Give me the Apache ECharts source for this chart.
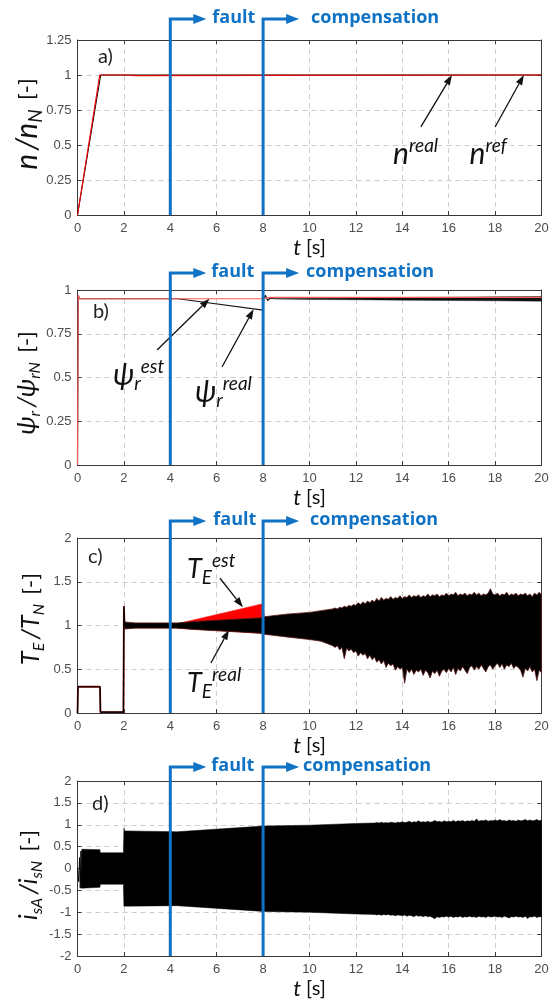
<!DOCTYPE html>
<html><head><meta charset="utf-8">
<script src="https://cdn.jsdelivr.net/npm/echarts@6/dist/echarts.min.js"></script>
<style>html,body{margin:0;padding:0;background:#fff}#c{width:552px;height:1003px}</style>
</head><body><div id="c"></div>
<script>
// ---------------- data ----------------
const faultTime = 4, compTime = 8;
const xMin = 0, xMax = 20, xStep = 2;
const yRanges = [[0, 1.25, 0.25], [0, 1, 0.25], [0, 2, 0.5], [-2, 2, 0.5]];
const panelLetters = ['a)', 'b)', 'c)', 'd)'];

// a) speed
const tRefA = [0, 1, 20];
const nRef = [0, 1, 1];
const tRealA = [0, 0.96, 2.0, 2.05, 2.5, 2.55, 20];
const nReal = [0, 1, 1, 0.996, 0.996, 1, 1];

// b) rotor flux
const tEstB = [0, 0.03, 0.08, 8.0, 8.3, 20];
const psiEst = [0, 0.97, 0.95, 0.95, 0.958, 0.958];
const tRealB = [0, 0.03, 0.08, 4.33, 8.0, 8.03, 8.1, 8.2, 8.3, 8.5];
const psiReal = [0, 0.97, 0.95, 0.95, 0.885, 0.95, 0.97, 0.94, 0.953, 0.95];
const tBandB = [8.5, 10, 12, 14, 16, 18, 20];
const psiBandUp = [0.952, 0.953, 0.955, 0.957, 0.959, 0.961, 0.963];
const psiBandLo = [0.948, 0.946, 0.944, 0.942, 0.94, 0.938, 0.936];

// c) torque
const tStepC = [0, 0.02, 0.97, 0.99, 1.98, 2.0, 2.03];
const teStep = [0, 0.3, 0.3, 0.01, 0.01, 1.22, 1.0];
const tEstC = [4.3, 8.0, 8.05];
const teEstUp = [1.02, 1.25, 1.10];
const teEstLo = [0.97, 0.91, 0.90];
const tBandC = [2.03, 2.5, 3.0, 3.5, 4.0, 4.3, 5.0, 6.0, 7.0, 8.0, 8.05, 9.0, 10.0, 10.5,
  11.0, 11.1, 11.2, 11.3, 11.4, 11.5, 11.6, 11.7, 11.8, 11.9,
  12.0, 12.1, 12.2, 12.3, 12.4, 12.5, 12.6, 12.7, 12.8, 12.9,
  13.0, 13.1, 13.2, 13.3, 13.4, 13.5, 13.6, 13.7, 13.8, 13.9,
  14.0, 14.1, 14.2, 14.3, 14.4, 14.5, 14.6, 14.7, 14.8, 14.9,
  15.0, 15.1, 15.2, 15.3, 15.4, 15.5, 15.6, 15.7, 15.8, 15.9,
  16.0, 16.1, 16.2, 16.3, 16.4, 16.5, 16.6, 16.7, 16.8, 16.9,
  17.0, 17.1, 17.2, 17.3, 17.4, 17.5, 17.6, 17.7, 17.8, 17.9,
  18.0, 18.1, 18.2, 18.3, 18.4, 18.5, 18.6, 18.7, 18.8, 18.9,
  19.0, 19.1, 19.2, 19.3, 19.4, 19.5, 19.6, 19.7, 19.8, 19.9, 20.0];
const teUp = [1.04, 1.03, 1.03, 1.03, 1.03, 1.03, 1.045, 1.06, 1.075, 1.09, 1.10, 1.13, 1.15, 1.17,
  1.19, 1.20, 1.19, 1.21, 1.20, 1.22, 1.21, 1.23, 1.22, 1.24,
  1.23, 1.26, 1.24, 1.27, 1.25, 1.28, 1.26, 1.29, 1.27, 1.31,
  1.28, 1.32, 1.29, 1.31, 1.30, 1.33, 1.30, 1.32, 1.31, 1.34,
  1.31, 1.33, 1.32, 1.35, 1.32, 1.34, 1.33, 1.35, 1.32, 1.34,
  1.33, 1.36, 1.33, 1.35, 1.34, 1.36, 1.33, 1.35, 1.34, 1.37,
  1.34, 1.36, 1.35, 1.38, 1.34, 1.36, 1.35, 1.37, 1.34, 1.36,
  1.35, 1.38, 1.35, 1.37, 1.34, 1.36, 1.35, 1.37, 1.42, 1.36,
  1.35, 1.37, 1.34, 1.36, 1.35, 1.38, 1.34, 1.36, 1.35, 1.37,
  1.34, 1.36, 1.35, 1.37, 1.34, 1.36, 1.33, 1.37, 1.35, 1.38, 1.35];
const teLo = [0.96, 0.97, 0.97, 0.97, 0.97, 0.97, 0.955, 0.94, 0.925, 0.91, 0.90, 0.87, 0.84, 0.82,
  0.77, 0.75, 0.77, 0.72, 0.75, 0.62, 0.74, 0.71, 0.73, 0.69,
  0.71, 0.65, 0.69, 0.66, 0.68, 0.62, 0.66, 0.61, 0.64, 0.58,
  0.61, 0.56, 0.60, 0.52, 0.57, 0.54, 0.56, 0.49, 0.53, 0.50,
  0.52, 0.34, 0.50, 0.46, 0.50, 0.44, 0.49, 0.47, 0.50, 0.43,
  0.49, 0.46, 0.40, 0.48, 0.45, 0.49, 0.42, 0.48, 0.50, 0.46,
  0.51, 0.47, 0.52, 0.44, 0.51, 0.48, 0.53, 0.49, 0.45, 0.52,
  0.54, 0.49, 0.53, 0.50, 0.55, 0.51, 0.47, 0.53, 0.55, 0.50,
  0.54, 0.57, 0.52, 0.56, 0.50, 0.55, 0.53, 0.57, 0.51, 0.54,
  0.52, 0.49, 0.41, 0.51, 0.48, 0.53, 0.47, 0.50, 0.37, 0.49, 0.46];

// d) stator current
const tStartD = [0, 0.05, 0.09, 0.12, 0.15, 0.18];
const isStart = [0, -0.3, 0.25, -0.45, 0.4, -0.45];
const tBandD = [0.18, 0.97, 0.98, 1.98, 2.0, 2.03, 4.3, 8.0, 10.0, 12.0,
  12.8, 12.9, 13.0, 13.1, 13.2, 13.3, 13.4, 13.5, 13.6, 13.7, 13.8, 13.9,
  14.0, 14.1, 14.2, 14.3, 14.4, 14.5, 14.6, 14.7, 14.8, 14.9,
  15.0, 15.1, 15.2, 15.3, 15.4, 15.5, 15.6, 15.7, 15.8, 15.9,
  16.0, 16.1, 16.2, 16.3, 16.4, 16.5, 16.6, 16.7, 16.8, 16.9,
  17.0, 17.1, 17.2, 17.3, 17.4, 17.5, 17.6, 17.7, 17.8, 17.9,
  18.0, 18.1, 18.2, 18.3, 18.4, 18.5, 18.6, 18.7, 18.8, 18.9,
  19.0, 19.1, 19.2, 19.3, 19.4, 19.5, 19.6, 19.7, 19.8, 19.9, 20.0];
const isUp = [0.44, 0.43, 0.36, 0.36, 0.92, 0.86, 0.84, 0.97, 0.99, 1.03,
  1.04, 1.05, 1.04, 1.06, 1.04, 1.05, 1.04, 1.06, 1.05, 1.04, 1.06, 1.05,
  1.07, 1.05, 1.06, 1.08, 1.05, 1.07, 1.06, 1.09, 1.06, 1.07,
  1.06, 1.08, 1.06, 1.07, 1.10, 1.07, 1.08, 1.06, 1.09, 1.07,
  1.08, 1.07, 1.10, 1.07, 1.09, 1.08, 1.10, 1.07, 1.09, 1.08,
  1.10, 1.08, 1.13, 1.08, 1.10, 1.09, 1.11, 1.08, 1.10, 1.09,
  1.11, 1.09, 1.12, 1.09, 1.10, 1.08, 1.11, 1.09, 1.10, 1.08,
  1.11, 1.09, 1.10, 1.12, 1.09, 1.11, 1.09, 1.10, 1.12, 1.09, 1.11];
const isLo = [-0.45, -0.43, -0.36, -0.36, -0.86, -0.86, -0.85, -0.98, -1.0, -1.04,
  -1.05, -1.06, -1.05, -1.07, -1.05, -1.06, -1.05, -1.07, -1.06, -1.08, -1.06, -1.07,
  -1.08, -1.06, -1.09, -1.07, -1.08, -1.10, -1.07, -1.09, -1.08, -1.10,
  -1.08, -1.10, -1.09, -1.12, -1.15, -1.10, -1.12, -1.10, -1.11, -1.09,
  -1.11, -1.09, -1.12, -1.10, -1.11, -1.09, -1.12, -1.10, -1.11, -1.09,
  -1.11, -1.10, -1.12, -1.09, -1.11, -1.10, -1.12, -1.09, -1.11, -1.10,
  -1.09, -1.11, -1.10, -1.12, -1.09, -1.11, -1.13, -1.10, -1.11, -1.09,
  -1.11, -1.10, -1.12, -1.09, -1.14, -1.10, -1.11, -1.09, -1.12, -1.10, -1.11];

// ---------------- layout / style ----------------
const GRID_TOPS = [40, 290, 538, 781];
const GRID_H = 175, GRID_L = 77.5, GRID_R = 10.5;
const AX = '#3a3a3a', LB = '#4d4d4d', FT = '"Liberation Sans", Arial, sans-serif';
const TF = 'Lato, "Open Sans", "DejaVu Sans", sans-serif';
const BLUE = '#0f72c4';

const zip = (t, v) => t.map((x, i) => [x, v[i]]);

const grids = GRID_TOPS.map(top => ({ left: GRID_L, right: GRID_R, top: top, height: GRID_H }));
const xAxes = [], yAxes = [];
yRanges.forEach((r, g) => {
  xAxes.push({
    type: 'value', gridIndex: g, position: 'bottom', min: xMin, max: xMax, interval: xStep,
    axisLine: { show: true, onZero: false, lineStyle: { color: AX, width: 1 } },
    axisTick: { show: true, inside: true, length: 4, lineStyle: { color: AX } },
    axisLabel: { color: LB, fontSize: 13, fontFamily: FT, margin: 7 },
    splitLine: { show: true, lineStyle: { type: [5, 4], color: '#cdcdcd', width: 1 } },
    name: '{i|t} [s]', nameLocation: 'middle', nameGap: 20,
    nameTextStyle: { fontSize: 20, fontFamily: TF, color: '#111', lineHeight: 24,
      rich: { i: { fontStyle: 'italic', fontSize: 22, fontFamily: TF, color: '#111', lineHeight: 24 } } }
  });
  xAxes.push({
    type: 'value', gridIndex: g, position: 'top', min: xMin, max: xMax, interval: xStep,
    axisLine: { show: true, onZero: false, lineStyle: { color: AX, width: 1 } },
    axisTick: { show: true, inside: true, length: 4, lineStyle: { color: AX } },
    axisLabel: { show: false }, splitLine: { show: false }
  });
  yAxes.push({
    type: 'value', gridIndex: g, position: 'left', min: r[0], max: r[1], interval: r[2],
    axisLine: { show: true, onZero: false, lineStyle: { color: AX, width: 1 } },
    axisTick: { show: true, inside: true, length: 4, lineStyle: { color: AX } },
    axisLabel: { color: LB, fontSize: 13, fontFamily: FT, margin: 6 },
    splitLine: { show: true, lineStyle: { type: [5, 4], color: '#cdcdcd', width: 1 } }
  });
  yAxes.push({
    type: 'value', gridIndex: g, position: 'right', min: r[0], max: r[1], interval: r[2],
    axisLine: { show: true, onZero: false, lineStyle: { color: AX, width: 1 } },
    axisTick: { show: true, inside: true, length: 4, lineStyle: { color: AX } },
    axisLabel: { show: false }, splitLine: { show: false }
  });
});

function lineS(g, t, v, color, width, z) {
  return { type: 'line', xAxisIndex: 2 * g, yAxisIndex: 2 * g, data: zip(t, v), showSymbol: false,
    symbol: 'none', lineStyle: { color: color, width: width }, z: z || 3, silent: true };
}
function bandS(g, t, up, lo, fill, stroke, lw, z) {
  return {
    type: 'custom', xAxisIndex: 2 * g, yAxisIndex: 2 * g, z: z || 2, silent: true,
    data: [[t[0], up[0]]],
    renderItem: function (params, api) {
      const pts = [];
      for (let i = 0; i < t.length; i++) pts.push(api.coord([t[i], up[i]]));
      for (let i = t.length - 1; i >= 0; i--) pts.push(api.coord([t[i], lo[i]]));
      return { type: 'polygon', shape: { points: pts }, style: { fill: fill, stroke: stroke, lineWidth: lw } };
    }
  };
}

const series = [
  lineS(0, tRefA, nRef, '#000', 1, 3),
  lineS(0, tRealA, nReal, '#ee0000', 1.2, 4),
  lineS(1, tRealB, psiReal, '#1a1a1a', 1.2, 3),
  bandS(1, tBandB, psiBandUp, psiBandLo, '#111', '#111', 0.4, 3),
  lineS(1, tEstB, psiEst, '#ff5a5a', 1.1, 4),
  lineS(2, tStepC, teStep, '#8a1010', 1.8, 2),
  lineS(2, tStepC, teStep, '#000', 1.2, 3),
  bandS(2, tEstC, teEstUp, teEstLo, '#ff0000', '#ff0000', 0.5, 2),
  bandS(2, tBandC, teUp, teLo, '#000', '#5a1515', 0.8, 3),
  lineS(3, tStartD, isStart, '#000', 1, 3),
  bandS(3, tBandD, isUp, isLo, '#000', '#000', 0.5, 3)
];

const chart = echarts.init(document.getElementById('c'), null, { renderer: 'canvas' });
chart.setOption({ animation: false, backgroundColor: '#fff', grid: grids, xAxis: xAxes, yAxis: yAxes, series: series });

// ---------------- annotations ----------------
const px = (g, t, v) => chart.convertToPixel({ xAxisIndex: 2 * g, yAxisIndex: 2 * g }, [t, v]);
const els = [];
const TXT = '#111';
const richA = {
  m: { fontStyle: 'italic', fontSize: 30, fontFamily: TF, color: TXT, lineHeight: 36 },
  sup: { fontStyle: 'italic', fontSize: 19, fontFamily: TF, color: TXT, lineHeight: 12, verticalAlign: 'top' },
  sub: { fontStyle: 'italic', fontSize: 19, fontFamily: TF, color: TXT, lineHeight: 12, verticalAlign: 'bottom' }
};
function arrow(p0, p1, color, lw, hl, hw) {
  const dx = p1[0] - p0[0], dy = p1[1] - p0[1], L = Math.hypot(dx, dy), ux = dx / L, uy = dy / L;
  const bx = p1[0] - ux * hl, by = p1[1] - uy * hl;
  els.push({ type: 'line', z: 50, silent: true, shape: { x1: p0[0], y1: p0[1], x2: bx, y2: by }, style: { stroke: color, lineWidth: lw } });
  els.push({ type: 'polygon', z: 50, silent: true, shape: { points: [p1, [bx - uy * hw / 2, by + ux * hw / 2], [bx + uy * hw / 2, by - ux * hw / 2]] }, style: { fill: color } });
}
function label(p, text, rich) {
  els.push({ type: 'text', z: 50, silent: true, x: p[0], y: p[1],
    style: { text: text, rich: rich, align: 'left', verticalAlign: 'middle', fill: TXT } });
}

// fault / compensation markers
const markerOff = [21, 17, 17, 14];
const faultTxtOff = [42, 41, 43, 41];
const compTxtOff = [48, 43, 47, 40];
yRanges.forEach((r, g) => {
  const yTop = GRID_TOPS[g] - markerOff[g];
  [[faultTime, 'fault', faultTxtOff[g]], [compTime, 'compensation', compTxtOff[g]]].forEach(m => {
    const pB = px(g, m[0], r[0]);
    const x = pB[0];
    els.push({ type: 'polyline', z: 60, silent: true,
      shape: { points: [[x, pB[1]], [x, yTop], [x + 25, yTop]] },
      style: { stroke: BLUE, lineWidth: 3, fill: null } });
    els.push({ type: 'polygon', z: 60, silent: true,
      shape: { points: [[x + 36, yTop], [x + 23, yTop - 5], [x + 23, yTop + 5]] }, style: { fill: BLUE } });
    els.push({ type: 'text', z: 60, silent: true, x: x + m[2], y: yTop - 1,
      style: { text: m[1], fill: BLUE, font: 'bold 18px "Open Sans", Lato, sans-serif', align: 'left', verticalAlign: 'middle' } });
  });
});

// panel letters
const letterPos = [[98, 57], [93, 312], [88, 557], [92, 804]];
panelLetters.forEach((s, g) => {
  els.push({ type: 'text', z: 50, silent: true, x: letterPos[g][0], y: letterPos[g][1],
    style: { text: s, fill: '#222', font: '20px Lato, "Open Sans", sans-serif', align: 'left', verticalAlign: 'middle' } });
});

// y-axis titles (rotated)
const yTitles = [
  { x: 27, y: 124, fs: 30, text: '{m|n} {m|/n}{sub|N} {b|[-]}' },
  { x: 27, y: 383, fs: 26, text: '{m|ψ}{sub|r} {m|/ψ}{sub|rN} {b|[-]}' },
  { x: 31, y: 619, fs: 25, text: '{m|T}{sub|E} {m|/T}{sub|N} {b|[-]}' },
  { x: 29, y: 875, fs: 25, text: '{m|i}{sub|sA} {m|/i}{sub|sN} {b|[-]}' }
];
yTitles.forEach(o => {
  els.push({ type: 'text', z: 50, silent: true, x: o.x, y: o.y, rotation: Math.PI / 2,
    style: { text: o.text, align: 'center', verticalAlign: 'middle', fill: TXT,
      rich: {
        m: { fontStyle: 'italic', fontSize: o.fs, fontFamily: TF, color: TXT, lineHeight: o.fs + 6 },
        sub: { fontStyle: 'italic', fontSize: Math.round(o.fs * 0.62), fontFamily: TF, color: TXT, lineHeight: 12, verticalAlign: 'bottom' },
        b: { fontSize: 22, fontFamily: TF, color: TXT, lineHeight: o.fs + 6, padding: [0, 0, 0, 6] }
      } } });
});

// curve labels and arrows
label(px(0, 13.6, 0.43), '{m|n}{sup|real}', richA);
label(px(0, 16.9, 0.43), '{m|n}{sup|ref}', richA);
arrow(px(0, 14.8, 0.629), px(0, 16.14, 1.0), '#111', 1.3, 10, 7);
arrow(px(0, 18.0, 0.629), px(0, 19.24, 1.0), '#111', 1.3, 10, 7);

label(px(1, 1.53, 0.514), '{m|ψ}{sub|r}{sup|est}', richA);
label(px(1, 5.06, 0.417), '{m|ψ}{sub|r}{sup|real}', richA);
arrow(px(1, 3.43, 0.657), px(1, 5.69, 0.95), '#111', 1.3, 10, 7);
arrow(px(1, 6.23, 0.56), px(1, 7.59, 0.89), '#111', 1.3, 10, 7);

const richC = Object.assign({}, richA, { m: Object.assign({}, richA.m, { fontSize: 27 }) });
label(px(2, 4.72, 1.646), '{m|T}{sub|E}{sup|est}', richC);
label(px(2, 4.72, 0.343), '{m|T}{sub|E}{sup|real}', richC);
arrow(px(2, 6.14, 1.54), px(2, 7.13, 1.21), '#111', 1.3, 10, 7);
arrow(px(2, 5.75, 0.571), px(2, 6.53, 0.95), '#111', 1.3, 10, 7);

chart.setOption({ graphic: { elements: els } });
</script>
</body></html>
